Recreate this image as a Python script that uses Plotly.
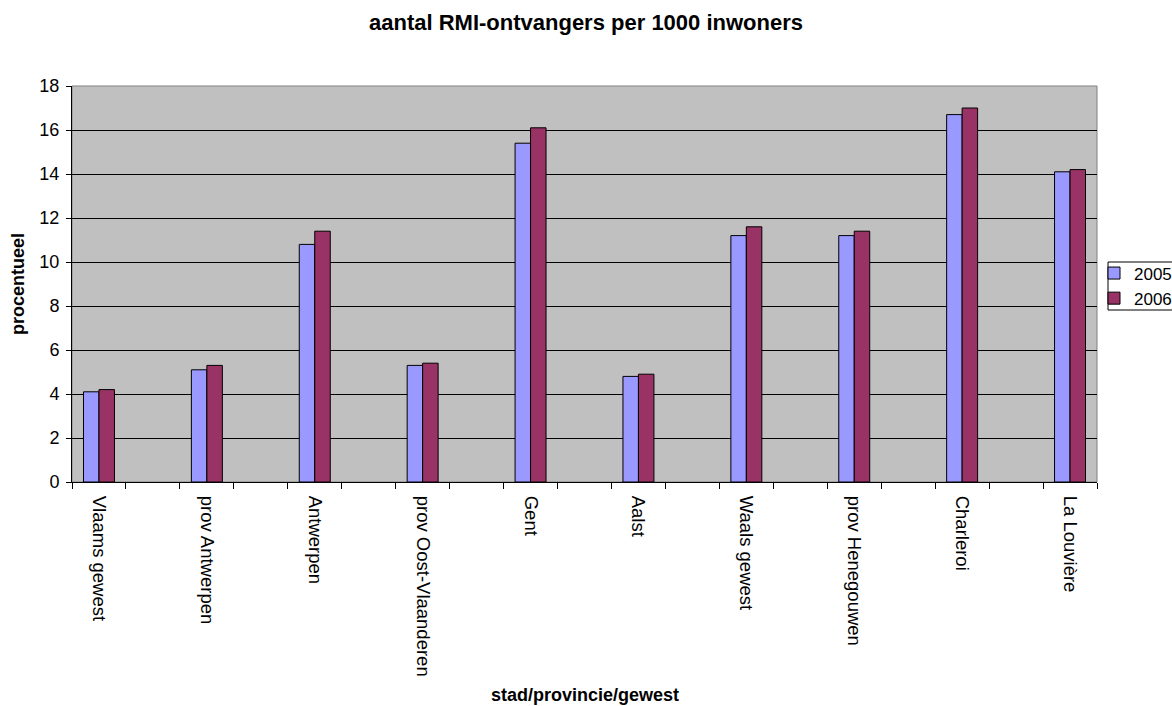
import plotly.graph_objects as go

categories = ["Vlaams gewest", "prov Antwerpen", "Antwerpen", "prov Oost-Vlaanderen",
              "Gent", "Aalst", "Waals gewest", "prov Henegouwen", "Charleroi", "La Louvière"]
v2005 = [4.1, 5.1, 10.8, 5.3, 15.4, 4.8, 11.2, 11.2, 16.7, 14.1]
v2006 = [4.2, 5.3, 11.4, 5.4, 16.1, 4.9, 11.6, 11.4, 17.0, 14.2]
yticks = [0, 2, 4, 6, 8, 10, 12, 14, 16, 18]

# each category is followed by an empty slot (as in the original chart)
xpos = [2 * i for i in range(len(categories))]
nslots = 2 * len(categories) - 1
boundaries = [k - 0.5 for k in range(nslots + 1)]
bw = 0.287

fig = go.Figure()
fig.add_bar(x=xpos, y=v2005, name="2005", width=bw, offset=-bw,
            marker=dict(color="#9999FF", line=dict(color="black", width=1)))
fig.add_bar(x=xpos, y=v2006, name="2006", width=bw, offset=0,
            marker=dict(color="#993366", line=dict(color="black", width=1)))

font = "Liberation Sans, Arial, sans-serif"
fig.update_layout(
    width=1172, height=706,
    paper_bgcolor="white", plot_bgcolor="#C0C0C0",
    barmode="overlay",
    margin=dict(l=72, r=75, t=86, b=224, autoexpand=False),
    font=dict(family=font, size=18, color="black"),
    title=dict(text="<b>aantal RMI-ontvangers per 1000 inwoners</b>",
               x=0.5, xanchor="center", y=1 - 22 / 706, yanchor="middle",
               font=dict(family=font, size=22)),
    legend=dict(x=(1094 - 72) / 1025, xanchor="left", y=(482 - 286) / 396, yanchor="middle",
                bgcolor="rgba(0,0,0,0)", borderwidth=0,
                font=dict(family=font, size=17), itemwidth=30),
    showlegend=True,
)
fig.update_xaxes(
    range=[-0.5, nslots - 0.5],
    tickvals=xpos, ticktext=categories, ticks="", tickangle=90, ticklabelstandoff=9,
    minor=dict(tickvals=boundaries, ticks="outside", ticklen=6, tickcolor="black",
               showgrid=False),
    showline=True, linecolor="black", linewidth=1, showgrid=False, zeroline=False,
    tickfont=dict(family=font, size=18.5), automargin=False,
)
fig.update_yaxes(
    range=[0, 18], tickvals=yticks, ticks="outside", ticklen=5, tickcolor="black",
    ticklabelstandoff=3,
    showline=True, linecolor="black", linewidth=1,
    showgrid=True, gridcolor="black", gridwidth=1, zeroline=False,
    tickfont=dict(family=font, size=18), automargin=False,
)
fig.add_shape(type="rect", xref="paper", yref="paper", x0=0, x1=1, y0=0, y1=1,
              line=dict(color="#808080", width=1), layer="below")
fig.add_shape(type="rect", xref="paper", yref="paper",
              x0=(1108 - 72) / 1025, x1=1.2, y0=(482 - 310) / 396, y1=(482 - 262) / 396,
              line=dict(color="black", width=1), fillcolor="white", layer="below")
fig.add_annotation(text="<b>stad/provincie/gewest</b>", xref="paper", yref="paper",
                   x=0.5, y=-(695 - 482) / 396, yanchor="middle", showarrow=False,
                   font=dict(family=font, size=18))
fig.add_annotation(text="<b>procentueel</b>", xref="paper", yref="paper",
                   x=-(72 - 18) / 1025, y=0.5, xanchor="center", yanchor="middle",
                   textangle=-90, showarrow=False, font=dict(family=font, size=18))
fig.write_html("out.html", config={"displayModeBar": False},
               post_script="document.body.style.margin='0';")
